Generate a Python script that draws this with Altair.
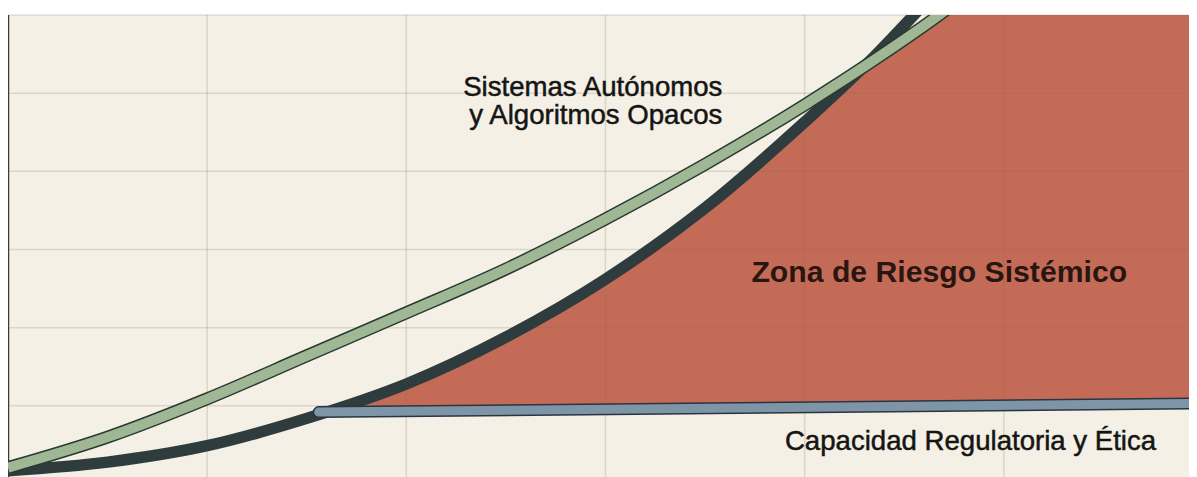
import altair as alt
import pandas as pd

# ---- data (x: one unit per vertical grid step, y: one unit per horizontal grid step)
curve_x = [0.0, 0.5, 1.0, 1.5, 2.0, 2.5, 3.0, 3.5, 4.0, 4.37]

dark_x = curve_x + [4.56, 4.63]
dark_y = [0.17, 0.28, 0.49, 0.84, 1.28, 1.88, 2.62, 3.53, 4.63, 5.52, 6.03, 6.22]

green_x = curve_x + [4.67, 4.78]
green_y = [0.21, 0.60, 1.09, 1.64, 2.19, 2.75, 3.39, 4.09, 4.85, 5.46, 5.99, 6.2]

blue_x = [1.56, 5.97]
blue_y = [0.92, 1.03]

grid_x = [1, 2, 3, 4, 5]
grid_y = [1, 2, 3, 4, 5, 6]

label_green = ["Sistemas Autónomos", "y Algoritmos Opacos"]
label_zone = "Zona de Riesgo Sistémico"
label_blue = "Capacidad Regulatoria y Ética"

# ---- tables
dark = pd.DataFrame({"x": dark_x, "y": dark_y})
green = pd.DataFrame({"x": green_x, "y": green_y})
blue = pd.DataFrame({"x": blue_x, "y": blue_y})


def blue_at(x):
    return blue_y[0] + (blue_y[1] - blue_y[0]) * (x - blue_x[0]) / (blue_x[1] - blue_x[0])


# risk zone: between the regulatory line and the lower of the two curves
rows = [(blue_x[0], blue_y[0])]
for i, x in enumerate(curve_x):
    if x > blue_x[0]:
        rows.append((x, min(dark_y[i], green_y[i])))
for x, y in zip(green_x[len(curve_x):], green_y[len(curve_x):]):
    rows.append((x, y))
rows.append((blue_x[1], green_y[-1]))
area = pd.DataFrame({"x": [r[0] for r in rows], "top": [r[1] for r in rows]})
area["bottom"] = [blue_at(x) for x in area["x"]]

gx = pd.DataFrame({"x": grid_x})
gy = pd.DataFrame({"y": grid_y})

xs = alt.Scale(domain=[0, 5.93], nice=False, zero=False)
ys = alt.Scale(domain=[0.09, 6], nice=False, zero=False)


def X(f="x"):
    return alt.X(f, type="quantitative", scale=xs, axis=None, title=None)


def Y(f="y"):
    return alt.Y(f, type="quantitative", scale=ys, axis=None, title=None)


zone = alt.Chart(area).mark_area(color="#c46b57", interpolate="monotone", clip=True).encode(
    x=X(), y=Y("top"), y2="bottom"
)

vgrid = alt.Chart(gx).mark_rule(color="#7f6f52", opacity=0.2, strokeWidth=1.5).encode(x=X())
hgrid = alt.Chart(gy).mark_rule(color="#7f6f52", opacity=0.2, strokeWidth=1.5).encode(y=Y())

axis_line = alt.Chart(pd.DataFrame({"x": [0]})).mark_rule(color="#3a3a36", strokeWidth=2.5).encode(x=X())

dark_line = alt.Chart(dark).mark_line(
    color="#2f3c3e", strokeWidth=11.5, interpolate="monotone", clip=True
).encode(x=X(), y=Y(), order="x:Q")

green_out = alt.Chart(green).mark_line(
    color="#2a3a2e", strokeWidth=13, interpolate="monotone", clip=True
).encode(x=X(), y=Y(), order="x:Q")
green_in = alt.Chart(green).mark_line(
    color="#9fb795", strokeWidth=10, interpolate="monotone", clip=True
).encode(x=X(), y=Y(), order="x:Q")

blue_out = alt.Chart(blue).mark_line(
    color="#2a3540", strokeWidth=12, strokeCap="round", clip=True
).encode(x=X(), y=Y(), order="x:Q")
blue_in = alt.Chart(blue).mark_line(
    color="#7e95a8", strokeWidth=9, strokeCap="round", clip=True
).encode(x=X(), y=Y(), order="x:Q")

labels_g = pd.DataFrame({"text": label_green, "x": [3.587, 3.587], "y": [4.97, 4.60]})
txt_g = alt.Chart(labels_g).mark_text(
    align="right", baseline="alphabetic", font="Liberation Sans", fontSize=27.6,
    color="#151514", stroke="#151514", strokeWidth=0.5
).encode(x=X(), y=Y(), text="text:N")

labels_z = pd.DataFrame({"text": [label_zone], "x": [4.676], "y": [2.58]})
txt_z = alt.Chart(labels_z).mark_text(
    align="center", baseline="alphabetic", font="Liberation Sans", fontSize=30.2,
    fontWeight="bold", color="#2a1610"
).encode(x=X(), y=Y(), text="text:N")

labels_b = pd.DataFrame({"text": [label_blue], "x": [5.765], "y": [0.436]})
txt_b = alt.Chart(labels_b).mark_text(
    align="right", baseline="alphabetic", font="Liberation Sans", fontSize=27.6,
    color="#151514", stroke="#151514", strokeWidth=0.5
).encode(x=X(), y=Y(), text="text:N")

chart = alt.layer(
    zone, vgrid, hgrid, axis_line, dark_line, green_out, green_in, blue_out, blue_in,
    txt_g, txt_z, txt_b
).properties(
    width=1181, height=462,
    autosize=alt.AutoSizeParams(type="none"),
    padding={"left": 0, "top": 7, "right": 0, "bottom": 0},
    background="#ffffff",
).configure_view(fill="#f4f0e5", stroke=None)

chart.save("out.html", embed_options={"renderer": "svg", "actions": False})
